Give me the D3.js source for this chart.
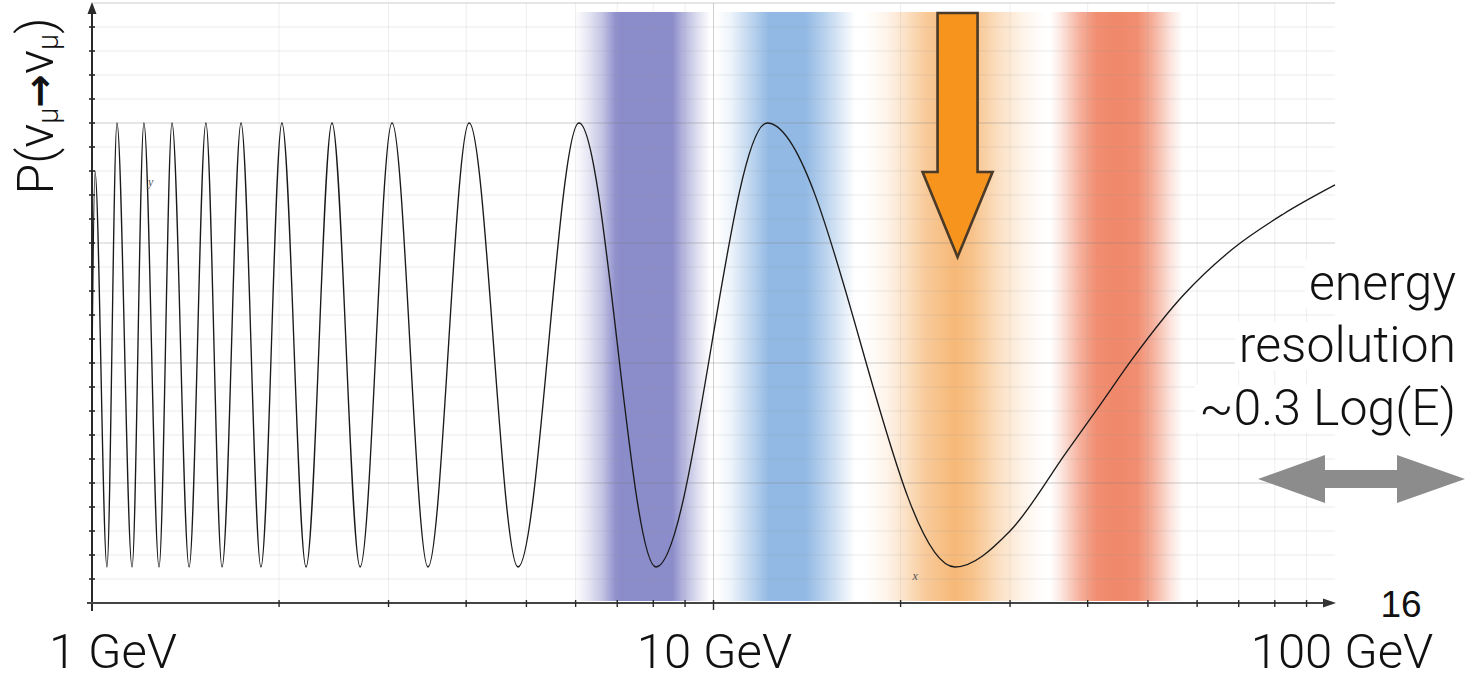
<!DOCTYPE html>
<html>
<head>
<meta charset="utf-8">
<script src="https://cdn.jsdelivr.net/npm/d3@7"></script>
<style>
  html, body { margin: 0; padding: 0; background: #fff; }
  svg { display: block; }
  .thin { font-family: Roboto, "Liberation Sans", Arial, sans-serif; font-weight: 300; fill: #111; }
</style>
</head>
<body>
<svg id="chart" width="1468" height="680"></svg>
<script>
// ---- data -------------------------------------------------------------
// Survival probability curve: energies (GeV) and P(numu -> numu) at the
// extrema of the oscillation plus points along the high-energy tail.
const curveEnergy = [1.000, 1.011, 1.057, 1.097, 1.160, 1.212, 1.282, 1.345, 1.433, 1.525,
                     1.619, 1.737, 1.870, 2.021, 2.210, 2.433, 2.700, 3.039, 3.472, 4.044,
                     4.847, 6.075, 8.08, 12.20, 24.47, 30.0, 37.0, 42.0, 47.3, 56.9,
                     68.5, 82.5, 100];
const curveProb   = [0.50, 0.90, 0.075, 1.0, 0.075, 1.0, 0.075, 1.0, 0.075, 1.0,
                     0.075, 1.0, 0.075, 1.0, 0.075, 1.0, 0.075, 1.0, 0.075, 1.0,
                     0.075, 1.0, 0.075, 1.0, 0.075, 0.15, 0.315, 0.415, 0.51, 0.64,
                     0.738, 0.81, 0.871];

// Energy windows (GeV) shaded behind the curve
const bandLow  = [5.98, 10.1, 17.5, 34.8];
const bandHigh = [9.88, 16.9, 34.2, 56.9];

// Axis labels
const xLabelValues = [1, 10, 100];
const xLabelText   = ["1 GeV", "10 GeV", "100 GeV"];
const probDomain   = [0, 1.25];
const probStep     = 0.05;
const probMajor    = 0.25;

// Energy the orange marker points at
const markerEnergy = 24.7;

// ---- styles -----------------------------------------------------------
const bandColors = ["#8b8cca", "#92b9e4", "#f6b877", "#f0886a"];
const bandProfiles = [
  [[0, 0], [0.1, 0.22], [0.2, 0.5], [0.3, 0.95], [0.34, 1], [0.72, 1], [0.8, 0.65], [0.9, 0.3], [1, 0]],
  [[0, 0], [0.1, 0.15], [0.2, 0.45], [0.3, 0.75], [0.38, 1], [0.64, 1], [0.76, 0.7], [0.9, 0.3], [1, 0]],
  [[0, 0], [0.12, 0.15], [0.22, 0.4], [0.34, 0.75], [0.5, 1], [0.6, 0.85], [0.74, 0.45], [0.88, 0.15], [1, 0]],
  [[0, 0], [0.08, 0.2], [0.22, 0.65], [0.35, 0.95], [0.5, 1], [0.66, 0.95], [0.78, 0.65], [0.9, 0.25], [1, 0]]
];

// ---- layout -----------------------------------------------------------
const svg = d3.select("#chart");
const x = d3.scaleLog().domain([1, 100]).range([92, 1335]);
const y = d3.scaleLinear().domain(probDomain).range([603, 3]);
const bandTop = 12, bandBottom = 601;

const defs = svg.append("defs");
bandColors.forEach((c, i) => {
  const g = defs.append("linearGradient").attr("id", "band" + i)
    .attr("x1", 0).attr("x2", 1).attr("y1", 0).attr("y2", 0);
  bandProfiles[i].forEach(([o, a]) =>
    g.append("stop").attr("offset", o).attr("stop-color", c).attr("stop-opacity", a));
});

// shaded energy windows
svg.append("g").selectAll("rect")
  .data(bandLow.map((lo, i) => ({ lo, hi: bandHigh[i], i })))
  .join("rect")
  .attr("x", d => x(d.lo))
  .attr("width", d => x(d.hi) - x(d.lo))
  .attr("y", bandTop)
  .attr("height", bandBottom - bandTop)
  .attr("fill", d => `url(#band${d.i})`);

// grid
const probTicks = d3.range(0, Math.round((probDomain[1] - probDomain[0]) / probStep) + 1)
  .map(k => +(k * probStep).toFixed(2));
const isMajor = v => Math.abs(v / probMajor - Math.round(v / probMajor)) < 1e-6;
const energyTicks = x.ticks();

const grid = svg.append("g");
grid.selectAll("line.v")
  .data(energyTicks.filter(v => v > 1 && v < 100))
  .join("line")
  .attr("x1", d => x(d)).attr("x2", d => x(d))
  .attr("y1", y(0)).attr("y2", y(probDomain[1]))
  .attr("stroke", d => d === 10 ? "rgba(150,150,150,0.45)" : "rgba(160,160,160,0.18)")
  .attr("stroke-width", 1);
grid.selectAll("line.h")
  .data(probTicks.filter(v => v > 0))
  .join("line")
  .attr("x1", x(1) + 1).attr("x2", x(100))
  .attr("y1", d => y(d)).attr("y2", d => y(d))
  .attr("stroke", d => isMajor(d) ? "rgba(120,120,120,0.38)" : "rgba(150,150,150,0.2)")
  .attr("stroke-width", 1);

// axes
const axes = svg.append("g").attr("stroke", "#2a2a2a").attr("fill", "none");
axes.append("line").attr("x1", x(1)).attr("x2", x(1)).attr("y1", y(0) + 8).attr("y2", 10).attr("stroke-width", 2);
axes.append("path").attr("d", `M${x(1)},2 L${x(1) - 4.5},14 L${x(1) + 4.5},14 Z`).attr("fill", "#2a2a2a").attr("stroke", "none");
axes.append("line").attr("x1", x(1) - 5).attr("x2", x(100) - 8).attr("y1", y(0)).attr("y2", y(0)).attr("stroke-width", 2).attr("stroke", "#444");
axes.append("path").attr("d", `M${x(100) + 1},${y(0)} L${x(100) - 12},${y(0) - 4.5} L${x(100) - 12},${y(0) + 4.5} Z`).attr("fill", "#333").attr("stroke", "none");

axes.selectAll("line.yt")
  .data(probTicks.filter(v => v > 0 && v < probDomain[1]))
  .join("line")
  .attr("x1", x(1) - 3).attr("x2", x(1) + 3)
  .attr("y1", d => y(d)).attr("y2", d => y(d))
  .attr("stroke-width", 1.6);
axes.selectAll("line.xt")
  .data(energyTicks.filter(v => v > 1 && v < 100))
  .join("line")
  .attr("x1", d => x(d)).attr("x2", d => x(d))
  .attr("y1", y(0) - 3).attr("y2", d => y(0) + (d === 10 ? 7 : 4))
  .attr("stroke-width", 1.4);

// oscillation curve
const pts = curveEnergy.map((e, i) => [e, curveProb[i]]);
svg.append("path")
  .datum(pts)
  .attr("fill", "none")
  .attr("stroke", "#1a1a1a")
  .attr("stroke-width", 1.35)
  .attr("d", d3.line().x(d => x(d[0])).y(d => y(d[1])).curve(d3.curveMonotoneX));

// small axis letters from the plotting tool
svg.append("text").attr("x", x(1.23)).attr("y", 186)
  .attr("font-family", "'Liberation Serif', serif").attr("font-style", "italic")
  .attr("font-size", 12).attr("fill", "#555").text("y");
svg.append("text").attr("x", x(20.9)).attr("y", 580)
  .attr("font-family", "'Liberation Serif', serif").attr("font-style", "italic")
  .attr("font-size", 12).attr("fill", "#555").text("x");

// orange marker arrow
const mx = x(markerEnergy);
svg.append("path")
  .attr("d", `M${mx - 20},13 L${mx + 20},13 L${mx + 20},172 L${mx + 35},172 L${mx},257 L${mx - 35},172 L${mx - 20},172 Z`)
  .attr("fill", "#f7941d").attr("stroke", "#4b3a28").attr("stroke-width", 2.6).attr("stroke-linejoin", "miter");

// x labels
svg.append("g").selectAll("text")
  .data(xLabelValues)
  .join("text")
  .attr("class", "thin")
  .attr("font-size", 49)
  .attr("x", (d, i) => x(d) + (i === 0 ? 21 : i === 2 ? 7 : 1))
  .attr("y", 667.5)
  .attr("text-anchor", "middle")
  .text((d, i) => xLabelText[i]);

// y label
const yl = svg.append("text").attr("class", "thin")
  .attr("font-size", 50)
  .attr("transform", "translate(53,106) rotate(-90)")
  .attr("text-anchor", "middle");
yl.append("tspan").text("P(ν");
yl.append("tspan").attr("font-size", 29).attr("dy", 5).text("μ");
yl.append("tspan").attr("dy", -5).attr("font-family", "'DejaVu Sans', sans-serif").attr("font-weight", "bold").attr("font-size", 40).text("→");
yl.append("tspan").text("ν");
yl.append("tspan").attr("font-size", 29).attr("dy", 5).text("μ");
yl.append("tspan").attr("dy", -5).text(")");

// resolution note on the right, each line on a white box
const noteLines = ["energy", "resolution", "~0.3 Log(E)"];
const noteBase = [300, 362, 425];
const note = svg.append("g");
noteLines.forEach((t, i) => {
  const bg = note.append("rect").attr("fill", "#fff");
  const tx = note.append("text").attr("class", "thin").attr("font-size", 50)
    .attr("x", 1456).attr("y", noteBase[i]).attr("text-anchor", "end").text(t);
  const b = tx.node().getBBox();
  bg.attr("x", b.x - 4).attr("y", b.y + 6).attr("width", b.width + 8).attr("height", b.height - 10);
});

// double-headed gray arrow
const ay = 479;
svg.append("path")
  .attr("d", `M1258,${ay} L1325,${ay - 24} L1325,${ay - 9} L1397,${ay - 9} L1397,${ay - 24} L1465,${ay} L1397,${ay + 24} L1397,${ay + 9} L1325,${ay + 9} L1325,${ay + 24} Z`)
  .attr("fill", "#8c8c8c");

// page number
svg.append("text").attr("x", 1401).attr("y", 617).attr("text-anchor", "middle")
  .attr("font-family", "'Liberation Sans', Arial, sans-serif").attr("font-size", 37)
  .attr("fill", "#111").text("16");
</script>
</body>
</html>
